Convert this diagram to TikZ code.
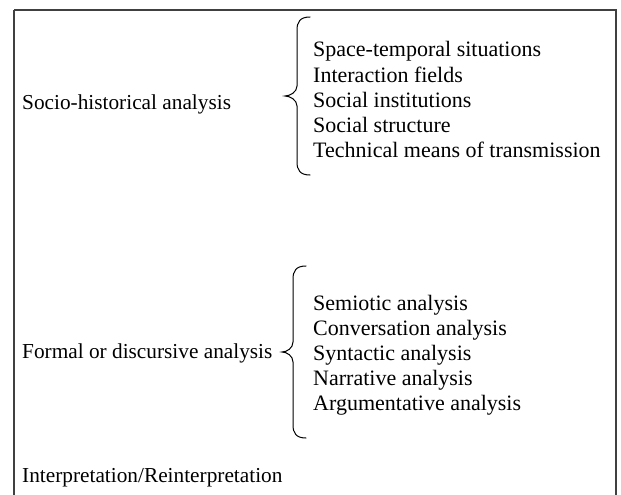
\documentclass[tikz,border=0pt]{standalone}
\usepackage{fontspec}
\setmainfont{Liberation Serif}
\begin{document}
\begin{tikzpicture}[x=1pt,y=-1pt,
  txt/.style={anchor=base west,inner sep=0pt,font=\fontsize{22}{25}\selectfont},
  lefttxt/.style={txt,font=\fontsize{21.3}{25}\selectfont},
  frame/.style={draw=black!75,line width=1.3pt},
  brace/.style={draw=black,line width=1pt,line cap=round}]
\useasboundingbox (0,0) rectangle (621,495);
\draw[frame] (14,10) -- (616,10) -- (616,505) (14,10) -- (14,505);
% section 1
\node[lefttxt] (sh) at (22,109) {Socio-historical analysis};
\node[txt] (a1) at (313,57) {Space-temporal situations};
\node[txt] (a2) at (313,82) {Interaction fields};
\node[txt] (a3) at (313,107) {Social institutions};
\node[txt] (a4) at (313,132) {Social structure};
\node[txt] (a5) at (313,157) {Technical means of transmission};
% brace 1
\coordinate (b1t) at (310,17);
\coordinate (b1m) at (285,96);
\coordinate (b1b) at (310,175);
\draw[brace] (b1t) .. controls (300,17) and (297,22) .. (297,30)
  -- (297,86) .. controls (297,92) and (290,96) .. (b1m)
  .. controls (290,96) and (297,100) .. (297,106)
  -- (297,162) .. controls (297,170) and (300,175) .. (b1b);
% section 2
\node[lefttxt] (fd) at (22,358) {Formal or discursive analysis};
\node[txt] (c1) at (313,310) {Semiotic analysis};
\node[txt] (c2) at (313,335) {Conversation analysis};
\node[txt] (c3) at (313,360) {Syntactic analysis};
\node[txt] (c4) at (313,385) {Narrative analysis};
\node[txt] (c5) at (313,410) {Argumentative analysis};
% brace 2
\coordinate (b2t) at (306,266);
\coordinate (b2m) at (282,352);
\coordinate (b2b) at (306,438);
\draw[brace] (b2t) .. controls (296,266) and (293,271) .. (293,279)
  -- (293,342) .. controls (293,348) and (287,352) .. (b2m)
  .. controls (287,352) and (293,356) .. (293,362)
  -- (293,425) .. controls (293,433) and (296,438) .. (b2b);
% interpretation
\node[lefttxt] (ir) at (22,482) {Interpretation/Reinterpretation};
\end{tikzpicture}
\end{document}
